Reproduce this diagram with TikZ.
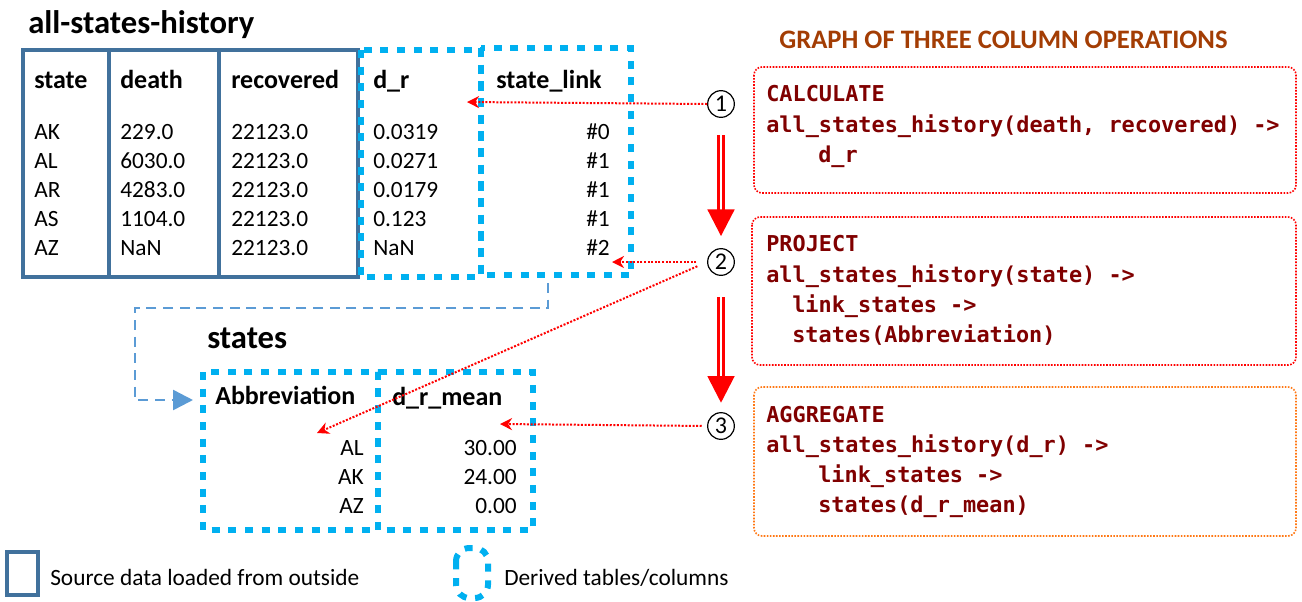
\documentclass[tikz,border=0pt]{standalone}
\usepackage{fontspec}
\setmainfont{Carlito}
\setmonofont{DejaVu Sans Mono}
\usetikzlibrary{arrows.meta,positioning}
\definecolor{srcblue}{RGB}{65,113,156}
\definecolor{derblue}{RGB}{0,176,240}
\definecolor{linkblue}{RGB}{91,155,213}
\definecolor{opred}{RGB}{128,0,0}
\definecolor{opbrown}{RGB}{163,61,4}
\definecolor{oporange}{RGB}{255,120,20}
\begin{document}
\begin{tikzpicture}[x=0.75pt,y=-0.75pt,
    srccol/.style={draw=srcblue, line width=2.6pt},
    dercol/.style={draw=derblue, line width=4.5pt, dash pattern=on 6pt off 6.5pt},
    head/.style={anchor=base west, inner sep=0pt, font=\bfseries\fontsize{19.5}{22}\selectfont},
    cell/.style={anchor=base west, inner sep=0pt, font=\fontsize{17.5}{20}\selectfont},
    cellr/.style={anchor=base east, inner sep=0pt, font=\fontsize{17.5}{20}\selectfont},
    title/.style={anchor=base west, inner sep=0pt, font=\bfseries\fontsize{24.5}{28}\selectfont},
    opbox/.style={line width=1.2pt, dash pattern=on 1.2pt off 1.1pt, rounded corners=6pt},
    code/.style={anchor=base west, inner sep=0pt, text=opred, font=\ttfamily\bfseries\fontsize{16.4}{20}\selectfont},
    stepnum/.style={circle, draw, line width=0.9pt, minimum size=20pt, inner sep=0pt, font=\fontsize{18}{20}\selectfont},
    hint/.style={red, line width=1.5pt, dash pattern=on 1.5pt off 1.2pt, -{Stealth[length=9pt,width=9pt]}},
    flow/.style={red, line width=2.2pt, double=white, double distance=1.9pt, -{Triangle[length=20pt,width=20pt]}},
    feed/.style={linkblue, line width=1.9pt, dash pattern=on 7.5pt off 5pt, -{Triangle[length=15pt,width=15pt]}}]
  \useasboundingbox (0,0) rectangle (1302,601);

  % all-states-history table
  \node[title] (histtitle) at (28,33) {all-states-history};
  \foreach \xa/\xb in {23/109,109/219,219/358}
    \draw[srccol] (\xa,50) rectangle (\xb,277);
  \draw[dercol] (361,50) rectangle (481,277);
  \draw[dercol] (481,48) rectangle (631,275);
  \foreach \x/\txt in {34/state,120/death,231/recovered,373/d\_r,496/state\_link}
    \node[head] at (\x,88) {\txt};
  \foreach \i/\st/\de/\dr/\lk in {0/AK/229.0/0.0319/0,1/AL/6030.0/0.0271/1,2/AR/4283.0/0.0179/1,3/AS/1104.0/0.123/1,4/AZ/NaN/NaN/2} {
    \node[cell] (st\i) at (34,139+29*\i) {\st};
    \node[cell] (de\i) at (120,139+29*\i) {\de};
    \node[cell] (re\i) at (231,139+29*\i) {22123.0};
    \node[cell] (dr\i) at (373,139+29*\i) {\dr};
    \node[cellr] (lk\i) at (610,139+29*\i) {\#\lk};
  }

  % states table
  \node[title] (sttitle) at (207,348) {states};
  \draw[dercol] (203,372) rectangle (378,530);
  \draw[dercol] (378,372) rectangle (533,530);
  \node[head] at (215,404) {Abbreviation};
  \node[head] at (392,405) {d\_r\_mean};
  \foreach \i/\ab/\mn in {0/AL/30.00,1/AK/24.00,2/AZ/0.00} {
    \node[cellr] (ab\i) at (364,455+29*\i) {\ab};
    \node[cellr] (mn\i) at (517,455+29*\i) {\mn};
  }

  % operations
  \node[anchor=base west, inner sep=0pt, text=opbrown, font=\bfseries\fontsize{20}{24}\selectfont] (optitle) at (779,48) {GRAPH OF THREE COLUMN OPERATIONS};
  \draw[opbox, red] (754,67) rectangle (1296,193);
  \draw[opbox, red] (752,217) rectangle (1296,365);
  \draw[opbox, oporange] (754,387) rectangle (1296,536);
  \node[code] at (766,101) {CALCULATE};
  \node[code] at (766,132) {all\_states\_history(death, recovered) ->};
  \node[code] at (818,162) {d\_r};
  \node[code] at (766,251) {PROJECT};
  \node[code] at (766,282) {all\_states\_history(state) ->};
  \node[code] at (792,312) {link\_states ->};
  \node[code] at (792,342) {states(Abbreviation)};
  \node[code] at (766,422) {AGGREGATE};
  \node[code] at (766,452) {all\_states\_history(d\_r) ->};
  \node[code] at (818,482) {link\_states ->};
  \node[code] at (818,512) {states(d\_r\_mean)};

  \node[stepnum] (n1) at (721,104) {1};
  \node[stepnum] (n2) at (721,262) {2};
  \node[stepnum] (n3) at (721,426) {3};
  \draw[flow, shorten <=13pt, shorten >=9pt] (n1.south) -- (n2.north);
  \draw[flow, shorten <=16pt, shorten >=7pt] (n2.south) -- (n3.north);

  % where each operation lands
  \coordinate (drin) at (467,102);
  \coordinate (lkin) at (612,262);
  \coordinate (abin) at (317,433);
  \coordinate (mnin) at (500,424);
  \draw[hint] (n1.west) -- (drin);
  \draw[hint, shorten <=8pt] (n2.west) -- (lkin);
  \draw[hint, shorten <=8pt] (n2.west) -- (abin);
  \draw[hint, shorten <=4pt] (n3.west) -- (mnin);

  \coordinate (lkfoot) at (548,283);
  \coordinate (abside) at (193,400);
  \draw[feed] (lkfoot) |- (135,308) |- (abside);

  % legend
  \draw[srccol] (7,552) rectangle (38,595);
  \node[cell] (srclbl) at (50,585) {Source data loaded from outside};
  \draw[dercol, rounded corners=10] (456,548) rectangle (488,598);
  \node[cell] (derlbl) at (504,585) {Derived tables/columns};
\end{tikzpicture}
\end{document}
